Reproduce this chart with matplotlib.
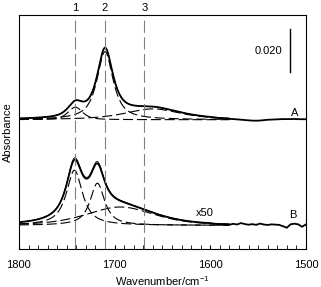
import matplotlib.pyplot as plt
import numpy as np
from matplotlib.transforms import blended_transform_factory

plt.rcParams['font.family'] = ['Liberation Sans', 'DejaVu Sans']
plt.rcParams['mathtext.default'] = 'regular'

# band parameters (absorbance in 1e-3 units)
a_centres = [1741, 1710, 1660]
a_heights = [5.8, 31.5, 5.0]
a_hw = [9, 10, 35]
a_eta = [0.6, 0.85, 0.7]
b_centres = [1742, 1718, 1694]
b_heights = [25.5, 19.5, 8.5]
b_hw = [10, 9, 42]
b_eta = [0.9, 0.9, 0.5]
b_meas_heights = [24.8, 18.9, 8.3]

a_offset = 48.8
band_pos = [1741, 1710, 1669]
band_labels = ['1', '2', '3']

# noisy tail of the measured spectra, 1600 -> 1500 every 4 cm-1
tail_wn = np.arange(1600, 1499, -4)
a_tail = [0.0, -0.1, -0.2, -0.3, -0.3, -0.4, -0.4, -0.5, -0.6, -0.7, -0.8, -0.9, -0.9,
          -0.8, -0.6, -0.4, -0.3, -0.2, -0.1, 0.0, 0.0, 0.0, 0.1, 0.0, 0.0, 0.0]
b_tail = [0.0, -0.2, -0.3, -0.2, -0.3, -0.4, 0.1, -0.2, 0.5, 0.1, -0.2, 0.1, -0.2,
          0.4, 0.0, -0.2, 0.1, 0.0, -0.1, -0.7, -1.4, 0.2, 0.5, 0.2, -0.9, 0.2]


def band(x, c, h, w, eta):
    d = (x - c) / w
    return h * (eta / (1 + d ** 2) + (1 - eta) * np.exp(-np.log(2) * d ** 2))


wn_fit = np.arange(1800, 1579, -1.0)
wn_meas = np.concatenate([np.arange(1800, 1600, -1.0), tail_wn])
noise_a = np.concatenate([np.zeros(200), a_tail])
noise_b = np.concatenate([np.zeros(200), b_tail])

fig = plt.figure(figsize=(3.21, 2.87), dpi=100)
ax = fig.add_axes([0.059, 0.134, 0.894, 0.814])

dash = (0, (9, 3.5))
a_pars = list(zip(a_centres, a_heights, a_hw, a_eta))
b_pars = list(zip(b_centres, b_heights, b_hw, b_eta))
for c, h, w, e in a_pars:
    ax.plot(wn_fit, a_offset + band(wn_fit, c, h, w, e), color='k', lw=0.8, ls=dash)
for c, h, w, e in b_pars:
    ax.plot(wn_fit, band(wn_fit, c, h, w, e), color='k', lw=0.8, ls=dash)

fit_a = sum(band(wn_fit, *p) for p in a_pars)
fit_b = sum(band(wn_fit, *p) for p in b_pars)
meas_a = sum(band(wn_meas, *p) for p in a_pars) + noise_a
meas_b = sum(band(wn_meas, c, h, w, e)
             for c, h, w, e in zip(b_centres, b_meas_heights, b_hw, b_eta)) + noise_b

ax.plot(wn_meas, a_offset + meas_a, color='k', lw=1.3)
ax.plot(wn_fit, a_offset + fit_a, color='k', lw=0.6)
ax.plot(wn_meas, meas_b, color='k', lw=1.3)
ax.plot(wn_fit, fit_b, color='k', lw=0.6)

trans = blended_transform_factory(ax.transData, ax.transAxes)
for p, lab in zip(band_pos, band_labels):
    ax.axvline(p, color='0.5', lw=0.8, ls=(0, (11, 4)))
    ax.text(p, 1.03, lab, transform=trans, ha='center', va='center', fontsize=8)

# scale bar
ax.plot([1517, 1517], [70.7, 90.7], color='k', lw=1)
ax.text(1525, 80.7, '0.020', ha='right', va='center', fontsize=8)

ax.text(1512, 52, 'A', ha='center', va='center', fontsize=8)
ax.text(1514, 5, 'B', ha='center', va='center', fontsize=8)
ax.text(1606, 5.6, 'x50', ha='center', va='center', fontsize=8)

ax.set_xlim(1800, 1500)
ax.set_ylim(-10.7, 97.2)
ax.set_xticks([1800, 1700, 1600, 1500])
ax.set_xticks(np.arange(1800, 1499, -10), minor=True)
ax.tick_params(axis='x', which='both', direction='in', length=3, labelsize=8, pad=8)
ax.set_yticks([])
ax.set_xlabel('Wavenumber/cm$^{-1}$', fontsize=8, labelpad=3)
ax.set_ylabel('Absorbance', fontsize=8, labelpad=4)

fig.savefig('out.png', dpi=100)
